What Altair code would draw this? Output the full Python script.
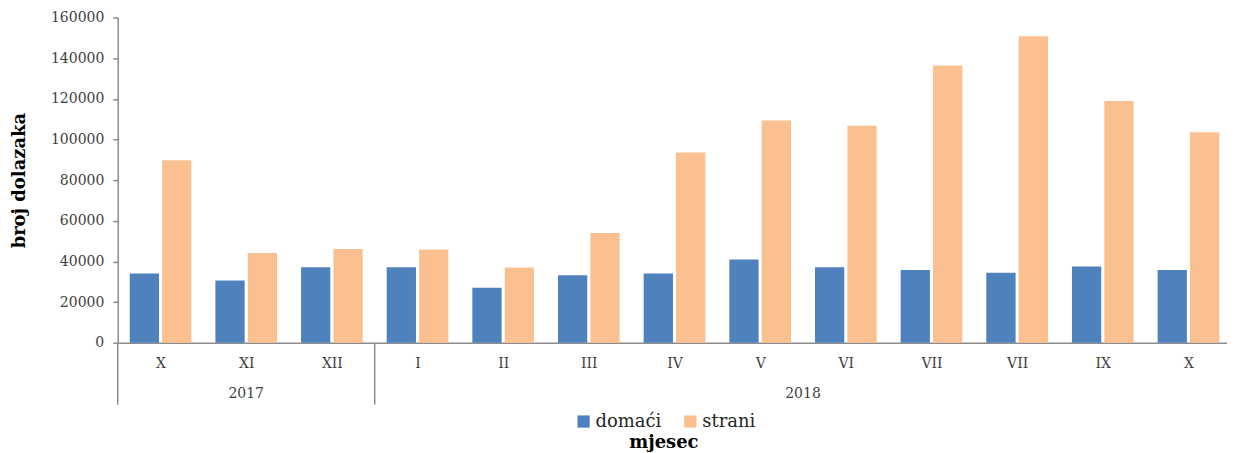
import json
import altair as alt
import pandas as pd

# ---- data ----
months = ["X", "XI", "XII", "I", "II", "III", "IV", "V", "VI", "VII", "VII", "IX", "X"]
years = ["2017", "2017", "2017", "2018", "2018", "2018", "2018", "2018", "2018", "2018", "2018", "2018", "2018"]
domaci = [34000, 30600, 37100, 37100, 27000, 33200, 34000, 40900, 37100, 35800, 34400, 37500, 35800]
strani = [89800, 44200, 46100, 45900, 37000, 54000, 93600, 109300, 106800, 136400, 150800, 118900, 103600]
series_names = ["domaći", "strani"]
series_colors = ["#4F81BD", "#FAC090"]
y_ticks = [0, 20000, 40000, 60000, 80000, 100000, 120000, 140000, 160000]

rows = []
for i, (m, yr) in enumerate(zip(months, years)):
    rows.append({"idx": i, "month": m, "year": yr, "series": series_names[0], "value": domaci[i]})
    rows.append({"idx": i, "month": m, "year": yr, "series": series_names[1], "value": strani[i]})
df = pd.DataFrame(rows)

FONT = "DejaVu Serif"
GRAY = "#8c8c8c"
W, H = 1112, 326

xscale = alt.Scale(domain=[-0.5, 12.45], nice=False, zero=False)
label_expr = json.dumps(months) + "[datum.value]"

base = alt.Chart(df)

bars = base.transform_calculate(
    x0="datum.idx + (datum.series === '" + series_names[0] + "' ? -0.36 : 0.018)",
    x1="datum.x0 + 0.342",
).mark_rect().encode(
    x=alt.X(
        "x0:Q",
        scale=xscale,
        title="mjesec",
        axis=alt.Axis(
            values=list(range(len(months))),
            labelExpr=label_expr,
            ticks=False,
            tickSize=0,
            grid=False,
            domainColor=GRAY,
            domainWidth=1.5,
            labelFont=FONT,
            labelFontSize=14,
            labelColor="#404040",
            labelPadding=14,
            titleFont=FONT,
            titleFontSize=18,
            titleFontWeight="bold",
            titleColor="#000000",
            titleX=547,
            titleY=105,
            titleAlign="center",
            titleBaseline="alphabetic",
        ),
    ),
    x2="x1:Q",
    y=alt.Y(
        "value:Q",
        scale=alt.Scale(domain=[0, 160000], nice=False),
        title="broj dolazaka",
        axis=alt.Axis(
            values=y_ticks,
            format="d",
            grid=False,
            domainColor=GRAY,
            domainWidth=1.5,
            tickColor=GRAY,
            tickSize=5,
            tickWidth=1.5,
            labelFont=FONT,
            labelFontSize=14,
            labelColor="#404040",
            labelPadding=9,
            titleFont=FONT,
            titleFontSize=18,
            titleFontWeight="bold",
            titleColor="#000000",
            titleX=-98,
            titleY=H / 2,
            titleAngle=270,
            titleAlign="center",
            titleBaseline="middle",
        ),
    ),
    y2=alt.datum(0),
    color=alt.Color(
        "series:N",
        scale=alt.Scale(domain=series_names, range=series_colors),
        legend=alt.Legend(
            title=None,
            orient="none",
            legendX=458,
            legendY=396,
            direction="horizontal",
            symbolType="square",
            symbolSize=150,
            symbolStrokeWidth=0,
            labelFont=FONT,
            labelFontSize=18,
            labelColor="#262626",
            labelOffset=3,
            columnPadding=20,
        ),
    ),
)

year_labels = base.transform_filter(
    alt.datum.series == series_names[0]
).transform_aggregate(
    center="mean(idx)", groupby=["year"]
).mark_text(font=FONT, fontSize=14, color="#404040", baseline="middle").encode(
    x=alt.X("center:Q", scale=xscale, title="mjesec"),
    y=alt.value(H + 51),
    text="year:N",
)

separators = base.transform_filter(
    alt.datum.series == series_names[0]
).transform_aggregate(
    start="min(idx)", groupby=["year"]
).transform_calculate(
    sep="datum.start - 0.5"
).mark_rule(color=GRAY, strokeWidth=1.5).encode(
    x=alt.X("sep:Q", scale=xscale, title="mjesec"),
    y=alt.value(H),
    y2=alt.value(H + 62),
)

chart = alt.layer(bars, separators, year_labels).properties(
    width=W,
    height=H,
    padding={"left": 3, "top": 2, "right": 0, "bottom": 0},
    background="white",
).configure_view(stroke=None)

chart.save("out.html", embed_options={"renderer": "svg", "actions": False})
